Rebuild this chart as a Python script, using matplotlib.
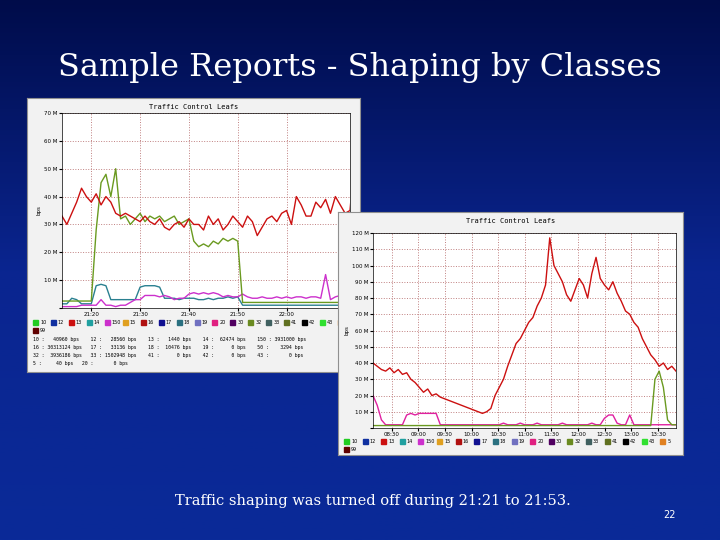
import numpy as np
import matplotlib.pyplot as plt
from matplotlib.patches import Rectangle
from matplotlib.colors import LinearSegmentedColormap

title = "Sample Reports - Shaping by Classes"
caption = "Traffic shaping was turned off during 21:21 to 21:53."

# left chart, minutes after 21:14, values in M bps
left_red = [33, 30, 34, 38, 43, 40, 38, 41, 37, 40, 38, 34, 33, 34, 33, 32, 31, 33, 31, 30,
            32, 29, 28, 30, 31, 29, 32, 30, 30, 28, 33, 30, 32, 28, 30, 33, 31, 29, 33, 31,
            26, 29, 32, 33, 31, 34, 35, 30, 40, 37, 33, 33, 38, 36, 39, 34, 40, 37, 34, 35, 55]
left_green = [2.5, 2.5, 2.5, 2.5, 2.5, 2.5, 2.5, 28, 45, 48, 40, 50, 32, 33, 30, 32, 34, 31,
              33, 32, 33, 31, 32, 33, 30, 31, 32, 24, 22, 23, 22, 24, 23, 25, 24, 25, 24, 2,
              2, 2, 2, 2, 2, 2, 2, 2, 2, 2, 2, 2, 2, 2, 2, 2, 2, 2, 2, 2, 2, 2, 2]
left_teal = [1.5, 1.5, 3.5, 3, 1.5, 1.5, 1.5, 8, 8.5, 8, 3, 3, 3, 3, 3, 3, 7.5, 8, 8, 8,
             7.5, 3.5, 3.5, 3.5, 3, 3.5, 3.5, 3.5, 3, 3, 3.5, 3, 3.5, 3.5, 4, 3.5, 4, 1,
             1, 1, 1, 1, 1, 1, 1, 1, 1, 1, 1, 1, 1, 1, 1, 1, 1, 1, 1, 1, 1, 1, 1]
left_magenta = [0.5, 0.5, 0.5, 0.5, 1, 1, 1, 1, 3, 1, 1, 0.5, 1, 1, 2, 3, 3, 4.5, 4.5, 4.5,
                4, 4.5, 4, 3, 3.5, 3.5, 5, 5.5, 5, 5.5, 5, 5.5, 5, 4, 4.5, 4, 4, 5, 4, 3.5,
                3.5, 4, 3.5, 3.5, 4, 3.5, 4, 3.5, 4, 4, 3.5, 4, 4, 3.5, 12, 3, 4, 4.5, 4, 5, 5]
left_ticks = ["21:20", "21:30", "21:40", "21:50", "22:00"]

# right chart, sample index, values in M bps
right_red = [40, 38, 36, 35, 37, 34, 36, 33, 34, 30, 28, 25, 22, 24, 20, 21, 19, 18, 17, 16,
             15, 14, 13, 12, 11, 10, 9, 10, 12, 20, 25, 30, 38, 45, 52, 55, 60, 65, 68, 75,
             80, 88, 117, 100, 95, 90, 82, 78, 85, 92, 88, 80, 95, 105, 92, 88, 85, 90, 83, 78,
             72, 70, 65, 62, 55, 50, 45, 42, 38, 40, 36, 38, 35]
right_pink = [20, 14, 5, 2, 2, 2, 2, 2, 8, 9, 8, 9, 9, 9, 9, 9, 2, 2, 2, 2,
              2, 2, 2, 2, 2, 2, 2, 2, 2, 2, 2, 3, 2, 2, 2, 3, 2, 2, 2, 3,
              2, 2, 2, 2, 2, 3, 2, 2, 2, 2, 2, 2, 3, 2, 2, 6, 8, 8, 3, 2,
              2, 8, 2, 2, 2, 2, 2, 2, 2, 2, 2, 2, 2]
right_green = [1.5] * 66 + [1.5, 30, 35, 25, 5, 2, 2]
right_ticks = ["08:30", "09:00", "09:30", "10:00", "10:30", "11:00", "11:30", "12:00", "12:30", "13:00", "13:30"]

legend_classes = ["10", "12", "13", "14", "150", "15", "16", "17", "18", "19", "20", "30",
                  "32", "33", "41", "42", "43", "5", "99"]
legend_colors = ["#22cc22", "#1030a0", "#cc1010", "#20a0a0", "#cc30cc", "#e0a020", "#b01010",
                 "#101090", "#2a7080", "#7070c0", "#e02080", "#500060", "#6a8a20", "#406060",
                 "#607020", "#000000", "#30e030", "#e08020", "#600000"]
stats = ["10 :   40960 bps    12 :   28560 bps    13 :   1440 bps    14 :  62474 bps    150 : 3931000 bps",
         "16 : 30313124 bps   17 :   33136 bps    18 :  10476 bps    19 :      0 bps    50 :    3294 bps",
         "32 :  3936186 bps   33 : 1502948 bps    41 :      0 bps    42 :      0 bps    43 :       0 bps",
         "5 :     40 bps   20 :       0 bps"]

fig = plt.figure(figsize=(7.2, 5.4), dpi=100)
bg = fig.add_axes([0, 0, 1, 1])
grad = np.linspace(0, 1, 256).reshape(-1, 1)
cm = LinearSegmentedColormap.from_list("slide", ["#000c4a", "#0a2590", "#0a2a98"])
bg.imshow(grad, aspect="auto", cmap=cm, extent=[0, 1, 0, 1])
bg.axis("off")
bg.text(0.5, 0.875, title, color="white", fontsize=23, family="DejaVu Serif",
        ha="center", va="center")
bg.text(0.243, 0.072, caption, color="white", fontsize=10.5, family="DejaVu Serif", va="center")
bg.text(0.93, 0.04, "22", color="white", fontsize=7, ha="center")


def panel(box, plot_box, ymax, ystep, series, ticks, tickpos, xmax):
    # boxes given in pixels: (x0, y0, x1, y1) from top-left
    x0, y0, x1, y1 = box
    fr = fig.add_axes([x0 / 720, 1 - y1 / 540, (x1 - x0) / 720, (y1 - y0) / 540])
    fr.set_facecolor("#f2f2f2")
    fr.set_xticks([]); fr.set_yticks([])
    for s in fr.spines.values():
        s.set_color("#909090")
    fr.set_xlim(x0, x1); fr.set_ylim(y1, y0)
    fr.text((x0 + x1) / 2, y0 + 9, "Traffic Control Leafs", ha="center", va="center",
            fontsize=5, family="DejaVu Sans Mono")
    ly = plot_box[3] + 14
    per_row = 18
    w = (x1 - x0 - 10) / per_row
    for i, (c, col) in enumerate(zip(legend_classes, legend_colors)):
        r, k = divmod(i, per_row)
        x = x0 + 6 + k * w
        y = ly + r * 8
        fr.add_patch(Rectangle((x, y - 2.5), 5, 5, color=col))
        fr.text(x + 7, y, c, fontsize=3.5, va="center", clip_on=True)
    for j, line in enumerate(stats):
        fr.text(x0 + 6, ly + 17 + j * 8, line, fontsize=3.5, family="DejaVu Sans Mono",
                va="center", clip_on=True)
    px0, py0, px1, py1 = plot_box
    ax = fig.add_axes([px0 / 720, 1 - py1 / 540, (px1 - px0) / 720, (py1 - py0) / 540])
    for vals, col in series:
        ax.plot(np.arange(len(vals)), vals, color=col, lw=1)
    ax.set_xlim(0, xmax)
    ax.set_ylim(0, ymax)
    ax.set_yticks(np.arange(0, ymax + 0.1, ystep))
    ax.set_yticklabels([""] + [f"{v:g} M" for v in np.arange(ystep, ymax + 0.1, ystep)])
    ax.set_xticks(tickpos)
    ax.set_xticklabels(ticks)
    ax.tick_params(labelsize=4, length=2, pad=1)
    ax.grid(True, color="#c08080", ls=":", lw=0.7)
    ax.set_ylabel("bps", fontsize=4, labelpad=2)
    for s in ax.spines.values():
        s.set_linewidth(0.5)
    return ax


panel((27, 98, 360, 372), (62, 113, 350, 308), 70, 10,
      [(left_teal, "#2a8090"), (left_magenta, "#cc30cc"), (left_green, "#6a9a20"),
       (left_red, "#cc1010")],
      left_ticks, [6, 16, 26, 36, 46], 59)

n = len(right_red) - 1
panel((338, 212, 683, 455), (373, 233, 676, 428), 120, 10,
      [(right_pink, "#e020a0"), (right_green, "#6a9a20"), (right_red, "#cc1010")],
      right_ticks, np.linspace(n * 0.062, n * 0.94, 11), n)

fig.savefig("out.png", dpi=100)
